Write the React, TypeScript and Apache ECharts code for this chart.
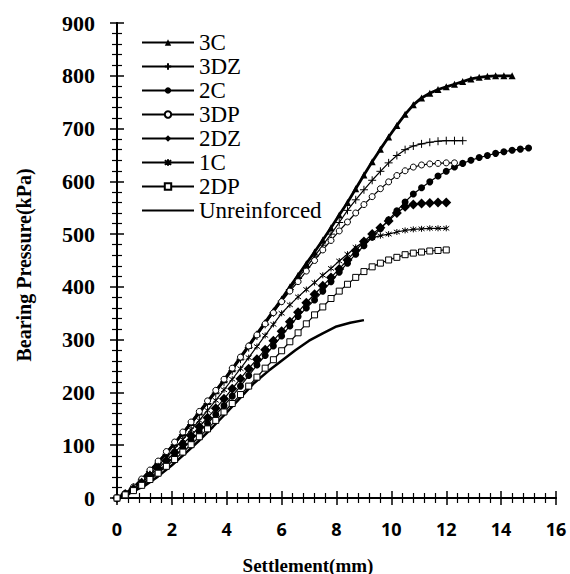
import React, { useEffect, useRef } from 'react';
import * as echarts from 'echarts';

const settlement = [0, 0.3, 0.6, 0.9, 1.2, 1.5, 1.8, 2.1, 2.4, 2.7, 3.0, 3.3, 3.6, 3.9, 4.2, 4.5, 4.8, 5.1, 5.4, 5.7, 6.0, 6.3, 6.6, 6.9, 7.2, 7.5, 7.8, 8.1, 8.4, 8.7, 9.0, 9.3, 9.6, 9.9, 10.2, 10.5, 10.8, 11.1, 11.4, 11.7, 12.0, 12.3, 12.6, 12.9, 13.2, 13.5, 13.8, 14.1, 14.4, 14.7, 15.0];

// Bearing pressure (kPa)
const p3C = [0, 8, 20, 35, 52, 68, 85, 104, 123, 143, 163, 183, 203, 224, 245, 267, 289, 311, 333, 355, 377, 400, 422, 444, 466, 489, 512, 536, 560, 586, 612, 637, 661, 684, 706, 727, 745, 758, 767, 774, 779, 784, 789, 794, 797, 799, 800, 800, 800];
const p3DZ = [0, 8, 20, 34, 50, 66, 83, 101, 120, 139, 159, 179, 199, 220, 241, 263, 285, 307, 329, 351, 373, 395, 416, 437, 458, 479, 500, 522, 545, 565, 584, 602, 619, 635, 649, 660, 667, 671, 674, 676, 677, 677, 677];
const p2C = [0, 6, 15, 26, 38, 51, 65, 79, 94, 109, 125, 141, 158, 175, 193, 212, 232, 252, 270, 288, 307, 326, 344, 360, 375, 392, 410, 428, 445, 462, 478, 494, 510, 527, 544, 561, 576, 588, 599, 610, 619, 627, 634, 640, 645, 649, 653, 656, 659, 661, 663];
const p3DP = [0, 9, 21, 36, 53, 70, 88, 106, 125, 144, 164, 184, 204, 225, 246, 267, 288, 309, 330, 351, 372, 392, 410, 430, 450, 470, 488, 506, 523, 540, 556, 571, 586, 599, 611, 620, 627, 631, 633, 634, 635, 635];
const p2DZ = [0, 7, 17, 29, 42, 56, 71, 86, 102, 118, 135, 152, 170, 188, 207, 226, 245, 263, 281, 298, 316, 334, 352, 370, 386, 402, 418, 434, 451, 469, 486, 500, 512, 525, 540, 552, 556, 558, 559, 560, 560];
const p1C = [0, 7, 18, 31, 46, 61, 77, 94, 111, 129, 147, 166, 185, 205, 225, 245, 266, 287, 308, 329, 350, 366, 381, 395, 408, 422, 435, 449, 462, 475, 486, 493, 497, 500, 504, 507, 509, 510, 511, 511, 511];
const p2DP = [0, 6, 14, 24, 35, 47, 60, 73, 87, 101, 116, 131, 147, 163, 179, 196, 212, 229, 246, 262, 279, 296, 313, 330, 347, 362, 378, 392, 405, 418, 429, 438, 445, 451, 456, 461, 464, 466, 468, 469, 470];

const settlementUnreinforced = [0, 0.5, 1.0, 1.5, 2.0, 2.5, 3.0, 3.5, 4.0, 4.5, 5.0, 5.5, 6.0, 6.5, 7.0, 7.5, 8.0, 8.5, 9.0];
const pUnreinforced = [0, 10, 23, 41, 62, 85, 109, 135, 162, 190, 218, 240, 260, 280, 298, 312, 325, 332, 337];

const seriesNames = ['3C', '3DZ', '2C', '3DP', '2DZ', '1C', '2DP', 'Unreinforced'];
const xTicks = { min: 0, max: 16, interval: 2 };
const yTicks = { min: 0, max: 900, interval: 100 };

const PLUS = 'path://M5,0L5,10M0,5L10,5';
const STAR = 'path://M5,0L5,10M1.5,1.5L8.5,8.5M8.5,1.5L1.5,8.5';
const SERIF = '"Liberation Serif", "Times New Roman", serif';

function pairs(xs: number[], ys: number[]) {
  return ys.map((y, i) => [xs[i], y]);
}

function lineSeries(name: string, data: number[][], opts: any) {
  return {
    name,
    type: 'line',
    data,
    showAllSymbol: true,
    symbol: opts.symbol,
    symbolSize: opts.size,
    lineStyle: { color: '#000', width: opts.width },
    itemStyle: {
      color: opts.fill ?? '#000',
      borderColor: '#000',
      borderWidth: opts.border ?? 0,
    },
    emphasis: { disabled: true },
  };
}

function axisCommon(ticks: any, inside: boolean, showLabel: boolean, label: any) {
  return {
    type: 'value',
    min: ticks.min,
    max: ticks.max,
    interval: ticks.interval,
    offset: 0,
    axisLine: { show: true, onZero: false, lineStyle: { color: '#000', width: 2 } },
    axisTick: { show: true, inside, length: 7, lineStyle: { color: '#000', width: 1.5 } },
    minorTick: { show: true, splitNumber: 5, length: 5, lineStyle: { color: '#000', width: 1.2 } },
    splitLine: { show: false },
    minorSplitLine: { show: false },
    axisLabel: showLabel ? label : { show: false },
  };
}

export default function App() {
  const ref = useRef<HTMLDivElement>(null);
  useEffect(() => {
    if (!ref.current) return;
    const chart = echarts.init(ref.current, null, { renderer: 'svg' });
    const xLabel = {
      show: true,
      margin: 22,
      color: '#000',
      fontFamily: 'Open Sans',
      fontWeight: 'bold',
      fontSize: 18,
    };
    const yLabel = {
      show: true,
      margin: 22,
      color: '#000',
      fontFamily: SERIF,
      fontWeight: 'bold',
      fontSize: 22,
    };
    const legendData = seriesNames.map((n) =>
      n === 'Unreinforced' ? { name: n, itemStyle: { opacity: 0 } } : { name: n }
    );
    chart.setOption({
      animation: false,
      backgroundColor: '#fff',
      grid: { left: 117, top: 23, width: 439, height: 475, containLabel: false, outerBoundsMode: 'none' },
      xAxis: [
        { ...axisCommon(xTicks, false, true, xLabel), position: 'bottom' },
        { ...axisCommon(xTicks, true, false, xLabel), position: 'bottom' },
      ],
      yAxis: [
        { ...axisCommon(yTicks, false, true, yLabel), position: 'left' },
        { ...axisCommon(yTicks, true, false, yLabel), position: 'left' },
      ],
      legend: {
        orient: 'vertical',
        left: 141,
        top: 31,
        padding: 0,
        itemGap: 1,
        itemWidth: 52,
        itemHeight: 8,
        selectedMode: false,
        data: legendData,
        textStyle: { fontFamily: SERIF, fontWeight: 'normal', fontSize: 23, lineHeight: 23, color: '#000' },
      },
      graphic: [
        {
          type: 'text',
          x: 308,
          y: 565,
          style: {
            text: 'Settlement(mm)',
            font: 'bold 19px "Liberation Serif", serif',
            fill: '#000',
            align: 'center',
            verticalAlign: 'middle',
            textAlign: 'center',
            textVerticalAlign: 'middle',
          },
        },
        {
          type: 'text',
          x: 24,
          y: 265,
          rotation: Math.PI / 2,
          style: {
            text: 'Bearing Pressure(kPa)',
            font: 'bold 20px "Liberation Serif", serif',
            fill: '#000',
            align: 'center',
            verticalAlign: 'middle',
            textAlign: 'center',
            textVerticalAlign: 'middle',
          },
        },
      ],
      series: [
        lineSeries('3C', pairs(settlement, p3C), { symbol: 'triangle', size: 7, width: 2.8 }),
        lineSeries('3DZ', pairs(settlement, p3DZ), { symbol: PLUS, size: 8, width: 1.2, border: 1 }),
        lineSeries('2C', pairs(settlement, p2C), { symbol: 'circle', size: 7, width: 1.2 }),
        lineSeries('3DP', pairs(settlement, p3DP), { symbol: 'circle', size: 6, width: 1.2, fill: '#fff', border: 1 }),
        lineSeries('2DZ', pairs(settlement, p2DZ), { symbol: 'diamond', size: 10, width: 1.2 }),
        lineSeries('1C', pairs(settlement, p1C), { symbol: STAR, size: 6, width: 1.2, border: 1 }),
        lineSeries('2DP', pairs(settlement, p2DP), { symbol: 'rect', size: 6, width: 1.2, fill: '#fff', border: 1 }),
        lineSeries('Unreinforced', pairs(settlementUnreinforced, pUnreinforced), { symbol: 'none', size: 0, width: 2.5 }),
      ],
    });
    return () => chart.dispose();
  }, []);
  return (
    <div
      ref={ref}
      style={{ position: 'fixed', left: 0, top: 0, width: 570, height: 574, background: '#fff' }}
    />
  );
}
